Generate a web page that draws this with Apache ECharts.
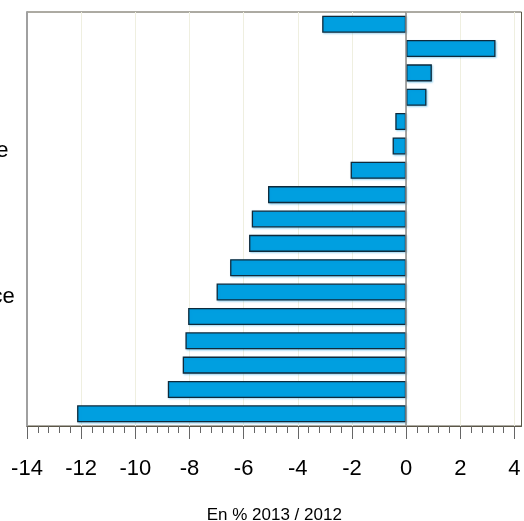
<!DOCTYPE html>
<html><head><meta charset="utf-8">
<script src="https://cdn.jsdelivr.net/npm/echarts@6/dist/echarts.min.js"></script>
<style>html,body{margin:0;padding:0;background:#fff}#c{width:524px;height:521px}</style>
</head><body><div id="c"></div>
<script>
const categories = ["Textile","Pharmacie","Énergie","Chimie","Agroalimentaire","Industrie et sidérurgie","Plastiques","Papier-carton","Métallurgie","Électronique","Machines","Industrie et commerce","Bois","Meubles","Verre","Imprimerie","Automobile"];
const values = [-3.1, 3.3, 0.95, 0.75, -0.4, -0.5, -2.05, -5.1, -5.7, -5.8, -6.5, -7.0, -8.05, -8.15, -8.25, -8.8, -12.15];
const majorTicks = [-14,-12,-10,-8,-6,-4,-2,0,2,4];
const minorTicks = [];
for (let i = 0; i < majorTicks.length - 1; i++) {
  for (let k = 0; k < 5; k++) minorTicks.push(Math.round((majorTicks[i] + k * (majorTicks[i+1]-majorTicks[i]) / 5) * 10) / 10);
}
minorTicks.push(majorTicks[majorTicks.length-1]);
const axisName = "En % 2013 / 2012";
const FF = "Liberation Sans, Arial, sans-serif";

const chart = echarts.init(document.getElementById('c'));
chart.setOption({
  animation: false,
  backgroundColor: '#fff',
  grid: {left: 27, right: 2.5, top: 12, bottom: 95, show: true, borderColor: '#5b5647', borderWidth: 1,
    containLabel: false, outerBoundsMode: 'none'},
  xAxis: [{
    type: 'value', min: -14, max: 4.26, position: 'bottom',
    axisLine: {show: true, lineStyle: {color: '#5b5647', width: 1}},
    axisTick: {show: true, customValues: majorTicks, length: 13, lineStyle: {color: '#666'}},
    axisLabel: {customValues: majorTicks, margin: 32, fontSize: 22, color: '#000', fontFamily: FF,
      hideOverlap: false, showMinLabel: true, showMaxLabel: true},
    splitLine: {show: true, lineStyle: {color: '#efefe0', width: 1}},
    name: axisName, nameLocation: 'middle', nameGap: 81,
    nameTextStyle: {fontSize: 17, color: '#000', fontFamily: FF}
  }, {
    type: 'value', min: -14, max: 4.26, position: 'bottom',
    axisLine: {show: false},
    axisTick: {show: true, customValues: minorTicks, length: 7, lineStyle: {color: '#666'}},
    axisLabel: {show: false},
    splitLine: {show: false}
  }],
  yAxis: {
    type: 'category', data: categories, inverse: true,
    axisLine: {show: true, onZero: false, lineStyle: {color: '#a0a0a0', width: 2}},
    axisTick: {show: false},
    axisLabel: {interval: 0, align: 'left', margin: 230, color: '#000', hideOverlap: false,
      formatter: function (v) { return '{a|' + v + '}'; },
      rich: {a: {fontSize: 22, color: '#000', fontFamily: FF, padding: [9, 0, 0, 0]}}},
    splitLine: {show: false}
  },
  series: [{
    type: 'bar', xAxisIndex: 0, data: values, barWidth: '70%',
    itemStyle: {color: '#009fe0', borderColor: '#0f2a3b', borderWidth: 1.3,
      shadowColor: 'rgba(0,150,220,0.35)', shadowBlur: 2, shadowOffsetX: 1, shadowOffsetY: 1},
    markLine: {silent: true, symbol: 'none', label: {show: false},
      lineStyle: {color: '#8a8a8a', width: 1.5, type: 'solid'},
      data: [{xAxis: 0}]}
  }]
});
</script></body></html>
